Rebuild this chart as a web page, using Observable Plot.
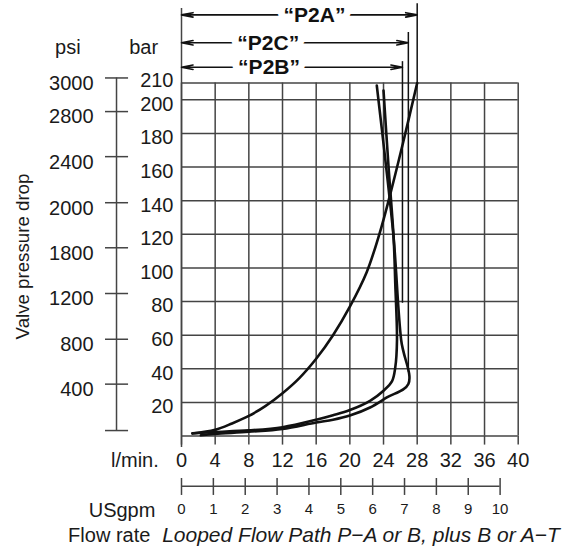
<!DOCTYPE html>
<html><head><meta charset="utf-8">
<script src="https://cdn.jsdelivr.net/npm/d3@7"></script>
<script src="https://cdn.jsdelivr.net/npm/@observablehq/plot@0.6"></script>
<style>body{margin:0;background:#fff} svg{display:block}</style>
</head><body><div id="chart"></div>
<script>
// ---- data ----
const lpmTicks = [0, 4, 8, 12, 16, 20, 24, 28, 32, 36, 40];
const barGrid = [0, 20, 40, 60, 80, 100, 120, 140, 160, 180, 200, 210];
const barTickLabels = [20, 40, 60, 80, 100, 120, 140, 160, 180, 200];
const barTopLabel = [210];
const psiLabels = ["", "400", "800", "1200", "1800", "2000", "2400", "2800", "3000"];
const psiAtBar = [3.3, 30.9, 57.6, 84.8, 112, 138.8, 166.2, 193, 213];
const gpmTicks = [0, 1, 2, 3, 4, 5, 6, 7, 8, 9, 10];
const lpmPerGpm = 3.785;

const p2aFlow = [1.3, 4, 6, 8, 10, 12, 14, 16, 18, 20, 22, 23.5, 24.6, 26.3, 28];
const p2aBar  = [1.5, 3.7, 7.5, 12, 18, 25.5, 34.5, 46, 60, 77, 97.5, 120, 140, 174, 210];

const p2bFlow = [1.3, 4, 8, 12, 16, 18, 20, 22.4, 24, 25, 25.4, 25.6, 25.4, 25.2, 24.6, 24];
const p2bBar  = [1.7, 2.4, 3.4, 5.3, 9.7, 12.4, 15.5, 21, 27, 32.5, 41, 57, 90, 118, 160, 205.5];

const p2cFlow = [2.3, 4, 8, 12, 16, 18, 20, 22.4, 24.4, 26.95, 26.1, 25.2, 24.2, 23.2];
const p2cBar  = [0.5, 1.3, 2.6, 4.3, 8.1, 9.7, 12.2, 17, 23, 31, 57, 118, 165, 208.5];

const dimNames = ["\u201CP2A\u201D", "\u201CP2C\u201D", "\u201CP2B\u201D"];
const dimEndFlow = [28, 26.95, 26.25];
const dimDropBar = [210, 38, 79];

// ---- layout (in the chart's scale units) ----
const dimLevel = [250.5, 233.9, 219.4];
const dimTop = [257.2, 240, 222.7];
const dimMid = [15.8, 10.3, 10.4];

const series = [
  p2aFlow.map((f, i) => ({s: "P2A", flow: f, bar: p2aBar[i]})),
  p2bFlow.map((f, i) => ({s: "P2B", flow: f, bar: p2bBar[i]})),
  p2cFlow.map((f, i) => ({s: "P2C", flow: f, bar: p2cBar[i]}))
];
const dims = dimNames.map((n, i) => ({name: n, end: dimEndFlow[i], drop: dimDropBar[i], level: dimLevel[i], top: dimTop[i], mid: dimMid[i]}));
const psi = psiLabels.map((l, i) => ({label: l, at: psiAtBar[i]}));

const gridColor = "#444";
const ink = "#1a1a1a";
const fs = 20;

const chart = Plot.plot({
  width: 577,
  height: 550,
  marginLeft: 181,
  marginRight: 59.3,
  marginTop: 82.5,
  marginBottom: 114.4,
  style: {fontFamily: "'Liberation Sans', Arial, Helvetica, sans-serif", color: ink, background: "white"},
  x: {domain: [0, 40], axis: null},
  y: {domain: [0, 210], axis: null},
  marks: [
    // grid
    Plot.ruleY(barGrid, {x1: 0, x2: 40, stroke: gridColor, strokeWidth: 1.5}),
    Plot.ruleX(lpmTicks, {y1: 0, y2: 210, stroke: gridColor, strokeWidth: 1.5}),
    Plot.ruleX([0], {y1: -6.8, y2: 254.3, stroke: gridColor, strokeWidth: 1.5}),
    // l/min axis
    Plot.axisX({ticks: lpmTicks, tickSize: 9, tickPadding: 8, fontSize: fs, stroke: gridColor, strokeWidth: 1.5, label: null, tickFormat: d => String(d)}),
    Plot.text(["l/min."], {x: -2.7, y: -14.5, text: d => d, textAnchor: "end", fontSize: fs, fill: ink}),
    // bar axis labels
    Plot.text(barTickLabels, {x: 0, y: d => d, text: d => String(d), textAnchor: "end", dx: -8, dy: 4.5, fontSize: fs, fill: ink}),
    Plot.text(barTopLabel, {x: 0, y: d => d, text: d => String(d), textAnchor: "end", dx: -8, dy: -2, fontSize: fs, fill: ink}),
    Plot.text(["bar"], {x: -4.5, y: 231, text: d => d, fontSize: fs, fill: ink}),
    // psi axis
    Plot.ruleX([-7.72], {y1: psiAtBar[0], y2: psiAtBar[psiAtBar.length - 1], stroke: gridColor, strokeWidth: 1.5}),
    Plot.ruleY(psi, {y: "at", x1: -9.03, x2: -6.29, stroke: gridColor, strokeWidth: 1.5}),
    Plot.text(psi, {y: "at", x: -10.45, text: "label", textAnchor: "end", dy: 5.5, fontSize: fs, fill: ink}),
    Plot.text(["psi"], {x: -13.5, y: 231, text: d => d, fontSize: fs, fill: ink}),
    Plot.text(["Valve pressure drop"], {x: -18.8, y: 106.8, text: d => d, rotate: -90, fontSize: 18.7, fill: ink}),
    // USgpm axis
    Plot.ruleY([-29.9], {x1: 0, x2: 10 * lpmPerGpm, stroke: gridColor, strokeWidth: 1.5}),
    Plot.ruleX(gpmTicks, {x: g => g * lpmPerGpm, y1: -25.2, y2: -35.3, stroke: gridColor, strokeWidth: 1.5}),
    Plot.text(gpmTicks, {x: g => g * lpmPerGpm, y: -43.6, text: d => String(d), fontSize: 15, fill: ink}),
    Plot.text(["USgpm"], {x: -3.1, y: -44.4, text: d => d, textAnchor: "end", fontSize: fs, fill: ink}),
    Plot.text(["Flow rate"], {x: -3.7, y: -59.2, text: d => d, textAnchor: "end", fontSize: fs, fill: ink}),
    Plot.text(["Looped Flow Path P\u2212A or B, plus B or A\u2212T"], {x: -2.3, y: -59.2, text: d => d, textAnchor: "start", fontStyle: "italic", fontSize: 21, fill: ink}),
    // curves
    ...series.map(s => Plot.line(s, {x: "flow", y: "bar", stroke: "#111", strokeWidth: 2.6, curve: "catmull-rom"})),
    // dimension annotations
    Plot.ruleX(dims, {x: "end", y1: "drop", y2: "top", stroke: "#111", strokeWidth: 1.5}),
    Plot.arrow(dims, {x1: "mid", x2: 0, y1: "level", y2: "level", stroke: "#111", strokeWidth: 1.6, headLength: 11, headAngle: 22}),
    Plot.arrow(dims, {x1: "mid", x2: "end", y1: "level", y2: "level", stroke: "#111", strokeWidth: 1.6, headLength: 11, headAngle: 22}),
    Plot.text(dims, {x: "mid", y: "level", text: "name", fontWeight: "bold", fontSize: 21, fill: "#111", stroke: "white", strokeWidth: 14})
  ]
});
document.getElementById("chart").appendChild(chart);
</script>
</body></html>
